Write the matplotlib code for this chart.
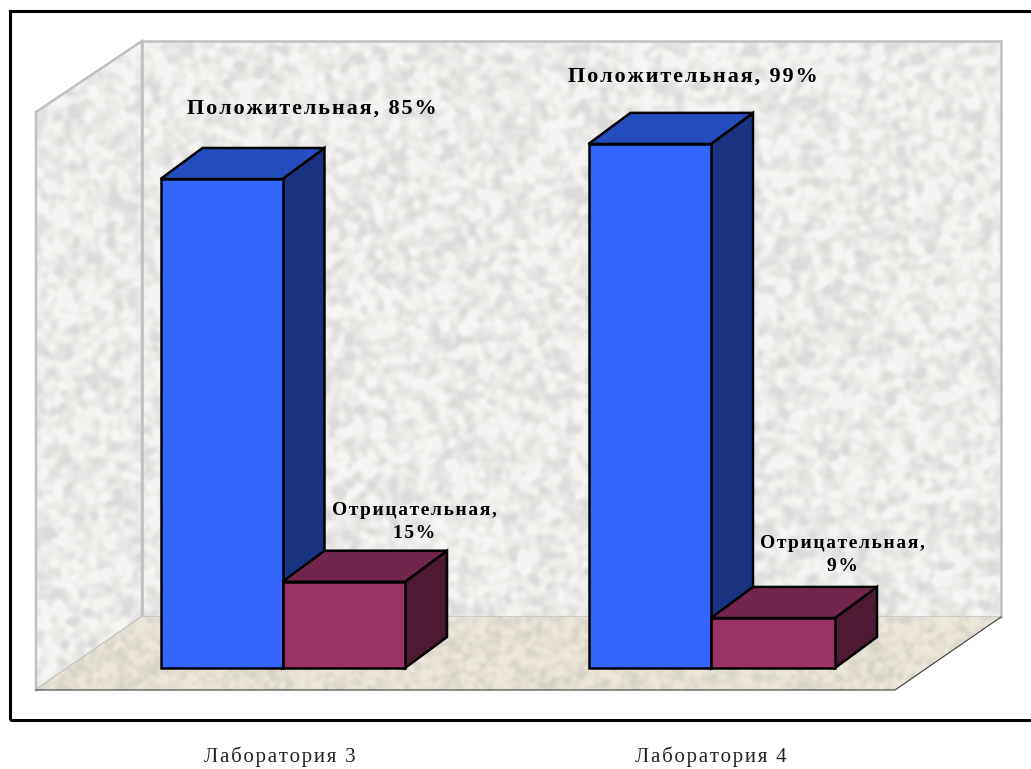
#!/usr/bin/python3

import numpy as np
import matplotlib
matplotlib.use("Agg")
import matplotlib.pyplot as plt
from matplotlib.patches import Polygon, Rectangle

plt.rcParams['font.family'] = ['Liberation Serif', 'DejaVu Serif']

categories = ["Лаборатория 3", "Лаборатория 4"]
positive_labels = ["Положительная, 85%", "Положительная, 99%"]
negative_labels = ["Отрицательная,\n15%", "Отрицательная,\n9%"]

# drawn heights (the 99% bar is drawn shorter than its label says)
positive_heights = [85.0, 91.1]
negative_heights = [15.0, 8.7]

# x is in pixels, y in percent, so the bars go through the y scale
PX = 5.753
DX = 42
DY = 31 / PX


def spaced(s):
    # the original has wide letter spacing, hair spaces get close to it
    return "\n".join("\u200a".join(line) for line in s.split("\n"))


def mottled(shape, seed, smooth, low, high, tint):
    # wall / floor texture only, not chart data
    rng = np.random.default_rng(seed)
    f = np.fft.fft2(rng.normal(size=shape))
    fy = np.fft.fftfreq(shape[0])[:, None]
    fx = np.fft.fftfreq(shape[1])[None, :]
    n = np.fft.ifft2(f * np.exp(-(fx**2 + fy**2) * smooth)).real
    n = (n - n.mean()) / n.std()
    n = np.clip(0.62 + n * 0.3, 0, 1)
    v = low + (high - low) * n
    return np.dstack([v * tint[0], v * tint[1], v * tint[2]])


def box(ax, x0, x1, h, front, top, side):
    ax.add_patch(Polygon([(x1, 0), (x1 + DX, DY), (x1 + DX, h + DY), (x1, h)],
                         fc=side, ec="black", lw=1.8, joinstyle="miter"))
    ax.add_patch(Polygon([(x0, h), (x0 + DX, h + DY), (x1 + DX, h + DY), (x1, h)],
                         fc=top, ec="black", lw=1.8, joinstyle="miter"))
    ax.add_patch(Rectangle((x0, 0), x1 - x0, h, fc=front, ec="black", lw=1.8))


fig = plt.figure(figsize=(10.31, 7.69), dpi=100)
ax = fig.add_axes([0, 0, 1, 1])
ax.set_xlim(0, 1031)
ax.set_ylim(-101 / PX, 668 / PX)
ax.axis("off")

wall_bottom = (668 - 617) / PX
wall_top = (668 - 41) / PX
floor_front = -(690 - 668) / PX
left_top = (668 - 112) / PX

wall_ext = (36, 1001, floor_front, wall_top)
tex = mottled((650, 965), 3, 190, 0.86, 0.96, (1.0, 1.0, 0.99))
im = ax.imshow(tex, extent=wall_ext, aspect="auto", zorder=1, interpolation="bilinear")
back = Polygon([(142, wall_bottom), (1001, wall_bottom), (1001, wall_top), (142, wall_top)],
               fc="none", ec="#c0c0c0", lw=1.8, zorder=2, joinstyle="miter")
ax.add_patch(back)
left = Polygon([(36, floor_front), (142, wall_bottom), (142, wall_top), (36, left_top)],
               fc="none", ec="#c0c0c0", lw=1.8, zorder=2, joinstyle="miter")
ax.add_patch(left)

# clip the wall texture to both walls
outline = Polygon([(36, floor_front), (142, wall_bottom), (1001, wall_bottom), (1001, wall_top),
                   (142, wall_top), (36, left_top)], transform=ax.transData, fc="none", ec="none")
ax.add_patch(outline)
im.set_clip_path(outline)

floor_tex = mottled((80, 965), 8, 120, 0.85, 0.93, (1.0, 0.975, 0.92))
floor_im = ax.imshow(floor_tex, extent=(36, 1001, floor_front, wall_bottom), aspect="auto",
                     zorder=3, interpolation="bilinear")
floor = Polygon([(36, floor_front), (142, wall_bottom), (1001, wall_bottom), (895, floor_front)],
                fc="none", ec="none", zorder=3)
ax.add_patch(floor)
floor_im.set_clip_path(floor)
ax.plot([36, 895, 1001], [floor_front, floor_front, wall_bottom], color="#3a3a3a", lw=0.8, zorder=3)
ax.set_xlim(0, 1031)
ax.set_ylim(-101 / PX, 668 / PX)

group_x = [(160.5, 282.5, 405), (588.5, 711, 835)]
label_pos = [(312, 108.5), (693, 76.5)]
neg_pos = [(414, 522), (842, 555)]
cat_x = [280, 711]

for i in range(2):
    x0, x1, x2 = group_x[i]
    patches_before = len(ax.patches)
    box(ax, x0, x1, positive_heights[i], "#3366ff", "#264dbf", "#1a3380")
    box(ax, x1, x2, negative_heights[i], "#993366", "#73264d", "#4d1933")
    for p in ax.patches[patches_before:]:
        p.set_zorder(4)
    px, py = label_pos[i]
    ax.text(px, (668 - py) / PX, spaced(positive_labels[i]), ha="center", va="center",
            fontsize=16, fontweight="bold", color="black", zorder=5)
    px, py = neg_pos[i]
    ax.text(px, (668 - py) / PX, spaced(negative_labels[i]), ha="center", va="center",
            fontsize=14, fontweight="bold", color="black", zorder=5, linespacing=1.5,
            multialignment="center")
    ax.text(cat_x[i], (668 - 757) / PX, spaced(categories[i]), ha="center", va="center",
            fontsize=15, color="#222222", zorder=5)

# outer frame, open past the right edge of the picture
ax.add_patch(Rectangle((9.5, (668 - 720) / PX), 1040, 709 / PX, fc="none", ec="black",
                       lw=2.2, zorder=6, joinstyle="miter"))

fig.savefig("out.png", dpi=100)
